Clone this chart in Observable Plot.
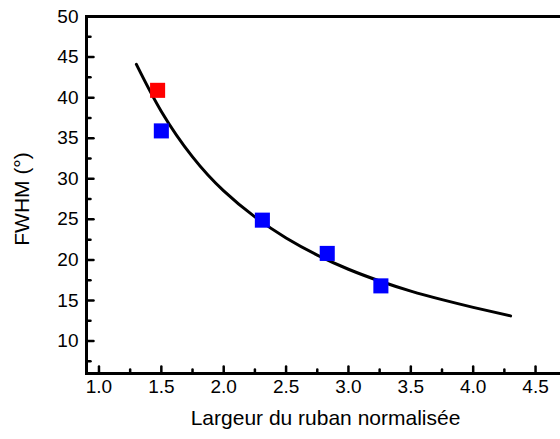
<!DOCTYPE html>
<html>
<head>
<meta charset="utf-8">
<script src="https://cdn.jsdelivr.net/npm/d3@7"></script>
<script src="https://cdn.jsdelivr.net/npm/@observablehq/plot@0.6"></script>
<style>
  html, body { margin: 0; padding: 0; background: #fff; overflow: hidden; }
  #chart svg { display: block; }
</style>
</head>
<body>
<div id="chart"></div>
<script>
// Fitted curve
const curveX = [1.3, 1.5, 1.75, 2.0, 2.25, 2.5, 2.75, 3.0, 3.25, 3.5, 3.75, 4.0, 4.3];
const curveY = [44.1, 38.3, 32.7, 28.5, 25.3, 22.7, 20.6, 18.85, 17.4, 16.15, 15.1, 14.15, 13.1];

// Measured points
const redX = [1.47];
const redY = [40.9];
const blueX = [1.5, 2.31, 2.83, 3.26];
const blueY = [35.9, 24.9, 20.8, 16.8];

// Ticks
const xMajor = [1.0, 1.5, 2.0, 2.5, 3.0, 3.5, 4.0, 4.5];
const xMinor = [1.25, 1.75, 2.25, 2.75, 3.25, 3.75, 4.25];
const yMajor = [10, 15, 20, 25, 30, 35, 40, 45, 50];
const yMinor = [7.5, 12.5, 17.5, 22.5, 27.5, 32.5, 37.5, 42.5, 47.5];

const xTitle = "Largeur du ruban normalisée";
const yTitle = "FWHM (°)";

const curve = curveX.map((x, i) => ({x, y: curveY[i]}));
const red = redX.map((x, i) => ({x, y: redY[i]}));
const blue = blueX.map((x, i) => ({x, y: blueY[i]}));

const tickShape = {draw(context, l) { context.moveTo(0, 0); context.lineTo(0, -l); }};

const chart = Plot.plot({
  width: 560,
  height: 439,
  marginLeft: 86,
  marginRight: 0,
  marginTop: 16,
  marginBottom: 66,
  style: {fontFamily: "'Liberation Sans', Arial, sans-serif", fontSize: "19px", color: "#000", background: "#fff"},
  x: {domain: [0.9, 4.7]},
  y: {domain: [6, 50]},
  marks: [
    Plot.line(curve, {x: "x", y: "y", curve: "natural", stroke: "#000", strokeWidth: 3}),
    Plot.dot(red, {x: "x", y: "y", symbol: "square", r: 8.5, fill: "#ff0000", stroke: null}),
    Plot.dot(blue, {x: "x", y: "y", symbol: "square", r: 8.5, fill: "#0000ff", stroke: null}),
    Plot.vectorX(xMajor, {x: d => d, frameAnchor: "bottom", length: 7, rotate: 0, anchor: "start", shape: tickShape, strokeWidth: 2.5, stroke: "#000"}),
    Plot.vectorX(xMinor, {x: d => d, frameAnchor: "bottom", length: 4, rotate: 0, anchor: "start", shape: tickShape, strokeWidth: 2.5, stroke: "#000"}),
    Plot.vectorY(yMajor, {y: d => d, frameAnchor: "left", length: 7, rotate: 90, anchor: "start", shape: tickShape, strokeWidth: 2.5, stroke: "#000"}),
    Plot.vectorY(yMinor, {y: d => d, frameAnchor: "left", length: 4, rotate: 90, anchor: "start", shape: tickShape, strokeWidth: 2.5, stroke: "#000"}),
    Plot.frame({anchor: "left", strokeWidth: 3, stroke: "#000"}),
    Plot.frame({anchor: "bottom", strokeWidth: 3, stroke: "#000"}),
    Plot.frame({anchor: "top", strokeWidth: 3, stroke: "#000"}),
    Plot.axisX({ticks: xMajor, tickSize: 0, tickPadding: 6, tickFormat: d3.format(".1f"), label: null, fontSize: 19}),
    Plot.axisY({ticks: yMajor, tickSize: 0, tickPadding: 8, tickFormat: d => String(d), label: null, fontSize: 19}),
    Plot.text([xTitle], {text: d => d, frameAnchor: "bottom", textAnchor: "middle", dy: 51, dx: 2, fontSize: 21, fill: "#000"}),
    Plot.text([yTitle], {text: d => d, frameAnchor: "left", textAnchor: "middle", rotate: -90, dx: -64, dy: 4, fontSize: 21, fill: "#000"})
  ]
});
document.getElementById("chart").appendChild(chart);
</script>
</body>
</html>
